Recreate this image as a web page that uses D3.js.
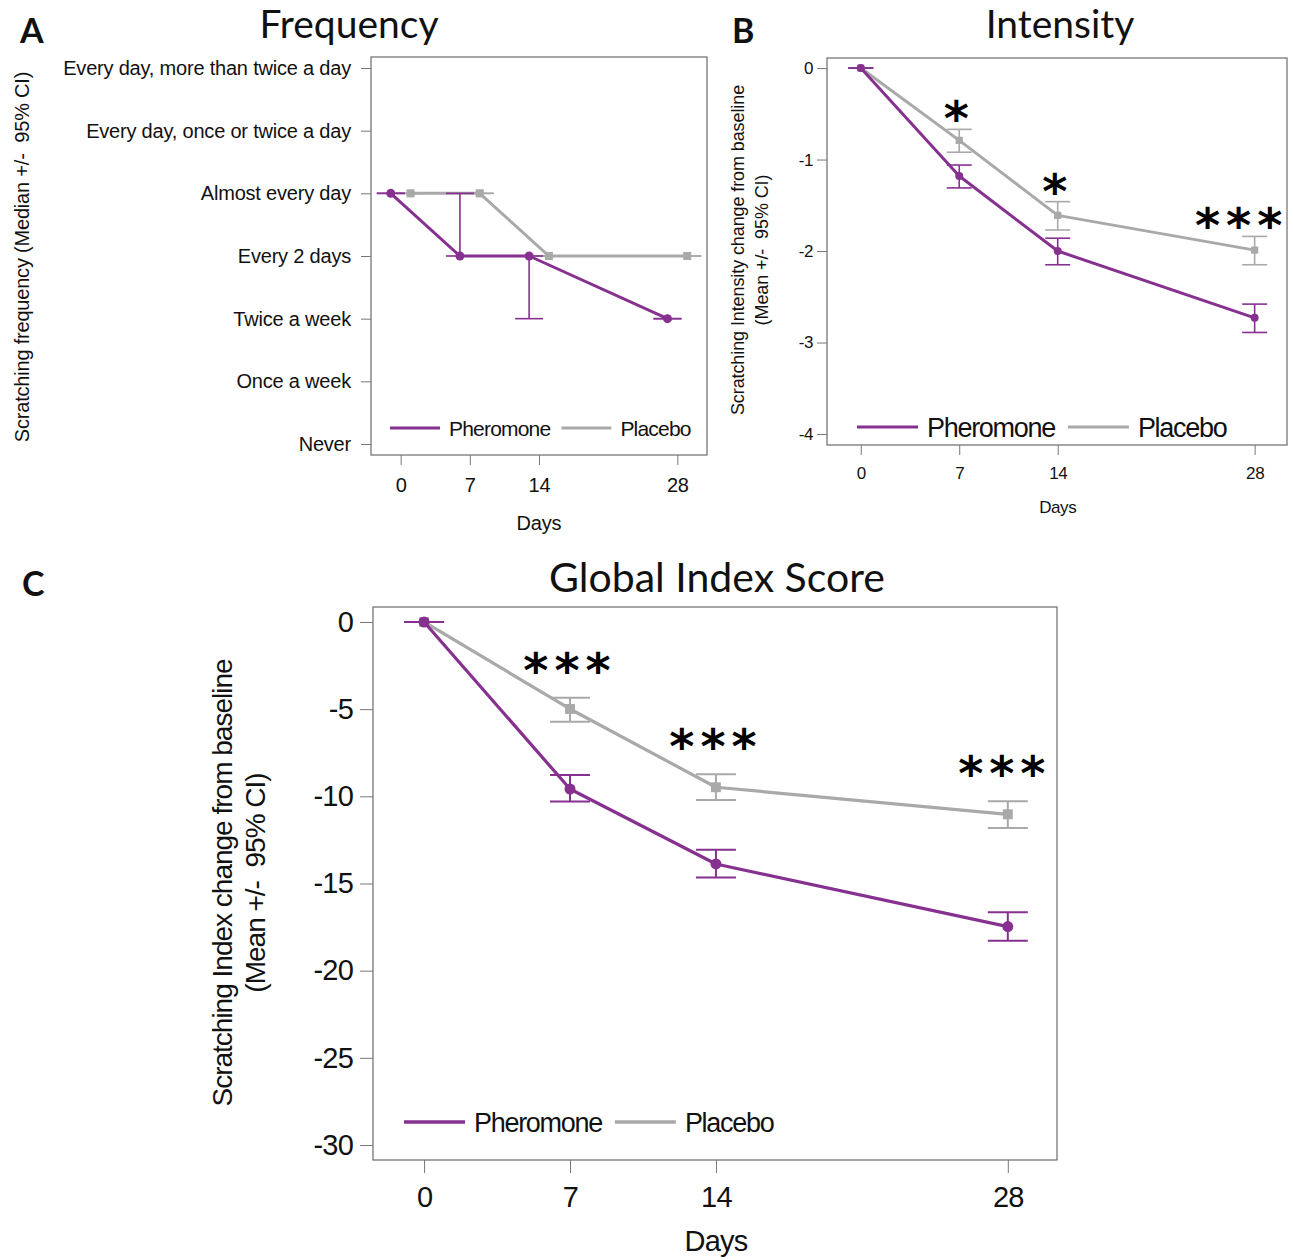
<!DOCTYPE html>
<html>
<head>
<meta charset="utf-8">
<script src="https://cdn.jsdelivr.net/npm/d3@7"></script>
<style>
  body { margin: 0; background: #fff; }
  svg { display: block; }
  text { white-space: pre; }
</style>
</head>
<body>
<div id="chart"></div>
<script>
(function () {

  // ---- data ----
  const days = [0, 7, 14, 28]

  // A: frequency categories (index 0 = Never)
  const freqLevels = ["Never", "Once a week", "Twice a week", "Every 2 days",
    "Almost every day", "Every day, once or twice a day", "Every day, more than twice a day"]
  const freqPheromone   = [4, 3, 3, 2]
  const freqPheromoneLo = [4, 3, 2, 2]
  const freqPheromoneHi = [4, 4, 3, 2]
  const freqPlacebo     = [4, 4, 3, 3]
  const freqPlaceboLo   = [4, 4, 3, 3]
  const freqPlaceboHi   = [4, 4, 3, 3]

  // B: intensity change from baseline
  const intPheromone   = [0, -1.18, -2.00, -2.73]
  const intPheromoneLo = [0, -1.31, -2.15, -2.89]
  const intPheromoneHi = [0, -1.06, -1.86, -2.58]
  const intPlacebo     = [0, -0.79, -1.61, -1.99]
  const intPlaceboLo   = [0, -0.92, -1.77, -2.15]
  const intPlaceboHi   = [0, -0.67, -1.46, -1.84]
  const intStars       = ["", "*", "*", "***"]

  // C: global index score change from baseline
  const gisPheromone   = [0, -9.58, -13.88, -17.47]
  const gisPheromoneLo = [0, -10.30, -14.66, -18.29]
  const gisPheromoneHi = [0, -8.77, -13.07, -16.65]
  const gisPlacebo     = [0, -4.99, -9.48, -11.03]
  const gisPlaceboLo   = [0, -5.72, -10.21, -11.81]
  const gisPlaceboHi   = [0, -4.34, -8.74, -10.28]
  const gisStars       = ["", "***", "***", "***"]

  const purple = "#86308f"
  const grey = "#a9a9a9"
  const sans = "'Liberation Sans', Arial, sans-serif"
  const titleFont = "Lato, 'Open Sans', sans-serif"

  const svg = d3.select("#chart").append("svg")
      .attr("width", 1293)
      .attr("height", 1260)

  function series(mean, lo, hi, name, color, shape, dx) {
    return { name, color, shape, dx, pts: days.map((d, i) => ({ day: d, v: mean[i], lo: lo[i], hi: hi[i] })) }
  }

  function drawPanel(cfg) {
    const g = svg.append("g")
    const f = cfg.frame
    const x = d3.scaleLinear().domain(cfg.xDomain).range([f.x0, f.x1])
    const y = d3.scaleLinear().domain(cfg.yDomain).range([f.y1, f.y0])

    g.append("rect")
      .attr("x", f.x0).attr("y", f.y0)
      .attr("width", f.x1 - f.x0).attr("height", f.y1 - f.y0)
      .attr("fill", "none").attr("stroke", "#6b6b6b").attr("stroke-width", 1.2)

    // axes
    const yAxis = d3.axisLeft(y).tickValues(cfg.yTicks).tickFormat(cfg.yFormat)
      .tickSize(cfg.tick).tickPadding(cfg.yPad)
    const ya = g.append("g").attr("transform", `translate(${f.x0},0)`).call(yAxis)
    const xAxis = d3.axisBottom(x).tickValues(days).tickSize(cfg.tick).tickPadding(cfg.xPad)
    const xa = g.append("g").attr("transform", `translate(0,${f.y1})`).call(xAxis)
    for (const a of [ya, xa]) {
      a.select(".domain").remove()
      a.selectAll(".tick line").attr("stroke", "#777").attr("stroke-width", 1)
      a.selectAll(".tick text")
        .attr("fill", "#111")
        .style("font-family", sans)
        .style("font-size", cfg.tickFont + "px")
        .style("letter-spacing", cfg.ls + "px")
    }

    // series: placebo first, pheromone on top
    cfg.series.slice().reverse().forEach(s => {
      const px = d => x(d.day + s.dx)
      const line = d3.line().x(px).y(d => y(d.v))
      g.append("path")
        .datum(s.pts)
        .attr("d", line)
        .attr("fill", "none")
        .attr("stroke", s.color)
        .attr("stroke-width", cfg.lw)
        .attr("stroke-linejoin", "round")

      const eb = g.append("g").attr("stroke", s.color).attr("stroke-width", cfg.ew)
      eb.selectAll(".v").data(s.pts).join("line")
        .attr("x1", px).attr("x2", px)
        .attr("y1", d => y(d.lo)).attr("y2", d => y(d.hi))
      eb.selectAll(".capLo").data(s.pts).join("line")
        .attr("x1", d => px(d) - cfg.cap).attr("x2", d => px(d) + cfg.cap)
        .attr("y1", d => y(d.lo)).attr("y2", d => y(d.lo))
      eb.selectAll(".capHi").data(s.pts).join("line")
        .attr("x1", d => px(d) - cfg.cap).attr("x2", d => px(d) + cfg.cap)
        .attr("y1", d => y(d.hi)).attr("y2", d => y(d.hi))

      if (s.shape === "circle") {
        g.selectAll(null).data(s.pts).join("circle")
          .attr("cx", px).attr("cy", d => y(d.v))
          .attr("r", cfg.ms / 2)
          .attr("fill", s.color)
      } else {
        const sq = cfg.ms * 0.9
        g.selectAll(null).data(s.pts).join("rect")
          .attr("x", d => px(d) - sq / 2).attr("y", d => y(d.v) - sq / 2)
          .attr("width", sq).attr("height", sq)
          .attr("fill", s.color)
      }
    })

    // significance stars above placebo upper CI
    if (cfg.stars) {
      const hiPts = cfg.series[1].pts
      g.selectAll(null).data(cfg.stars).join("text")
        .attr("x", (d, i) => x(days[i]) + (i === 3 ? cfg.lastStarShift : 0))
        .attr("y", (d, i) => y(hiPts[i].hi) - cfg.starGap + 26)
        .attr("text-anchor", "middle")
        .style("font-family", "'DejaVu Sans', sans-serif")
        .style("font-weight", "bold")
        .style("font-size", "48px")
        .style("letter-spacing", "6px")
        .text(d => d)
    }

    // legend
    let lx = f.x0 + cfg.leg.x
    const ly = f.y1 - cfg.leg.dy
    cfg.series.forEach(s => {
      g.append("line")
        .attr("x1", lx).attr("x2", lx + cfg.leg.len)
        .attr("y1", ly).attr("y2", ly)
        .attr("stroke", s.color).attr("stroke-width", cfg.leg.lw)
      const t = g.append("text")
        .attr("x", lx + cfg.leg.len + 9)
        .attr("y", ly + cfg.leg.font * 0.36)
        .style("font-family", sans)
        .style("font-size", cfg.leg.font + "px")
        .style("letter-spacing", cfg.leg.ls + "px")
        .attr("fill", "#111")
        .text(s.name)
      lx = lx + cfg.leg.len + 9 + t.node().getComputedTextLength() + cfg.leg.gap
    })

    // axis titles
    cfg.yTitle.forEach((line, i) => {
      g.append("text")
        .attr("transform", `translate(${cfg.yTitleX[i]},${cfg.yTitleY})rotate(-90)`)
        .attr("text-anchor", "middle")
        .style("font-family", sans)
        .style("font-size", cfg.yTitleFont + "px")
        .style("letter-spacing", cfg.yTitleLs + "px")
        .attr("fill", "#111")
        .text(line)
    })
    g.append("text")
      .attr("x", x(14)).attr("y", cfg.daysY)
      .attr("text-anchor", "middle")
      .style("font-family", sans)
      .style("font-size", cfg.tickFont + "px")
      .style("letter-spacing", cfg.ls + "px")
      .attr("fill", "#111")
      .text("Days")

    g.append("text")
      .attr("x", cfg.title.x).attr("y", cfg.title.y)
      .attr("text-anchor", "middle")
      .style("font-family", titleFont)
      .style("font-size", cfg.title.size + "px")
      .attr("fill", "#111")
      .text(cfg.title.text)
    g.append("text")
      .attr("x", cfg.letter.x).attr("y", cfg.letter.y)
      .style("font-family", titleFont)
      .style("font-weight", "bold")
      .style("font-size", "34px")
      .attr("fill", "#111")
      .text(cfg.letter.text)
  }

  const plain = d => String(d)

  // Panel A
  drawPanel({
    frame: { x0: 371, x1: 707, y0: 57, y1: 455 },
    xDomain: [-3, 31], yDomain: [-0.176, 6.176],
    yTicks: d3.range(freqLevels.length), yFormat: i => freqLevels[i],
    tick: 10, yPad: 10, xPad: 13, tickFont: 20, ls: -0.2,
    lw: 3, ew: 1.6, cap: 14, ms: 9,
    series: [
      series(freqPheromone, freqPheromoneLo, freqPheromoneHi, "Pheromone", purple, "circle", -1),
      series(freqPlacebo, freqPlaceboLo, freqPlaceboHi, "Placebo", grey, "square", 1)
    ],
    leg: { x: 19, dy: 27, len: 50, font: 21, ls: -0.8, lw: 3, gap: 11 },
    yTitle: ["Scratching frequency (Median +/-  95% CI)"], yTitleX: [29], yTitleY: 257,
    yTitleFont: 20, yTitleLs: -0.2,
    daysY: 530,
    title: { text: "Frequency", x: 349, y: 38, size: 39 },
    letter: { text: "A", x: 20, y: 43 }
  })

  // Panel B
  drawPanel({
    frame: { x0: 827, x1: 1287, y0: 58, y1: 445 },
    xDomain: [-2.4, 30.3], yDomain: [-4.12, 0.11],
    yTicks: [0, -1, -2, -3, -4], yFormat: plain,
    tick: 10, yPad: 4, xPad: 12, tickFont: 17, ls: -0.4,
    lw: 3, ew: 1.6, cap: 12.5, ms: 8,
    series: [
      series(intPheromone, intPheromoneLo, intPheromoneHi, "Pheromone", purple, "circle", 0),
      series(intPlacebo, intPlaceboLo, intPlaceboHi, "Placebo", grey, "square", 0)
    ],
    stars: intStars, starGap: 20, lastStarShift: -13,
    leg: { x: 30, dy: 18, len: 61, font: 27, ls: -1.3, lw: 3, gap: 13 },
    yTitle: ["Scratching Intensity change from baseline", "(Mean +/-  95% CI)"],
    yTitleX: [744, 768], yTitleY: 250, yTitleFont: 18, yTitleLs: -0.1,
    daysY: 513,
    title: { text: "Intensity", x: 1060, y: 38, size: 39 },
    letter: { text: "B", x: 732, y: 43 }
  })

  // Panel C
  drawPanel({
    frame: { x0: 373, x1: 1057, y0: 607, y1: 1160 },
    xDomain: [-2.45, 30.36], yDomain: [-30.86, 0.86],
    yTicks: [0, -5, -10, -15, -20, -25, -30], yFormat: plain,
    tick: 13, yPad: 7, xPad: 13, tickFont: 29, ls: -0.8,
    lw: 3.2, ew: 2, cap: 20, ms: 11,
    series: [
      series(gisPheromone, gisPheromoneLo, gisPheromoneHi, "Pheromone", purple, "circle", 0),
      series(gisPlacebo, gisPlaceboLo, gisPlaceboHi, "Placebo", grey, "square", 0)
    ],
    stars: gisStars, starGap: 37, lastStarShift: -3,
    leg: { x: 31, dy: 38, len: 61, font: 27, ls: -1.3, lw: 3.5, gap: 13 },
    yTitle: ["Scratching Index change from baseline", "(Mean +/-  95% CI)"],
    yTitleX: [232, 265], yTitleY: 883, yTitleFont: 28, yTitleLs: -1.0,
    daysY: 1251,
    title: { text: "Global Index Score", x: 717, y: 592, size: 41 },
    letter: { text: "C", x: 22, y: 596 }
  })

})();
</script>
</body>
</html>
